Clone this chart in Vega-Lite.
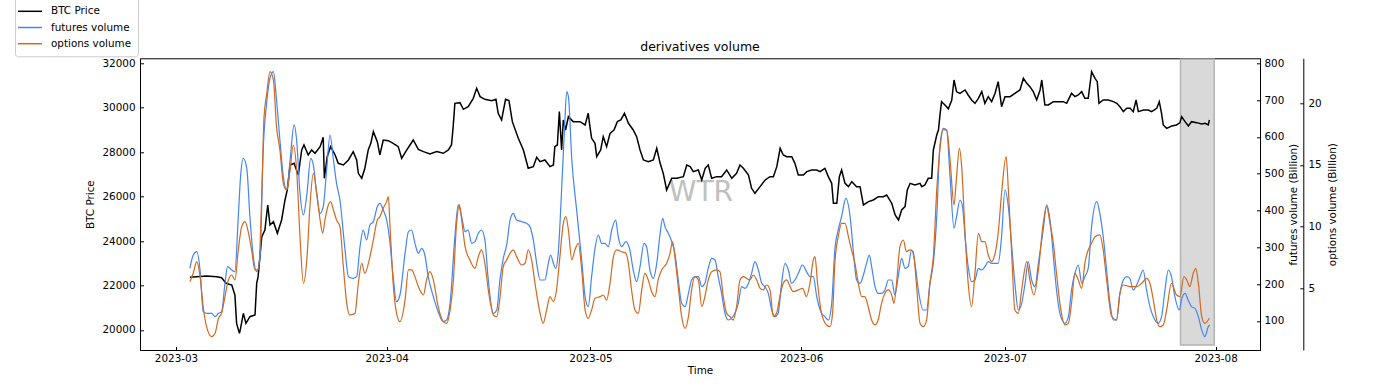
{
"$schema": "https://vega.github.io/schema/vega-lite/v6.json",
"width": 1120,
"height": 291.7,
"autosize": {"type": "none"},
"padding": {"left": 140, "top": 58.3, "right": 140, "bottom": 39},
"title": {"text": "derivatives volume", "anchor": "middle", "frame": "group"},
"config": {
 "font": "DejaVu Sans",
 "view": {"stroke": "#000000", "strokeWidth": 1},
 "axis": {"labelFontSize": 10.4, "titleFontSize": 10.4, "titleFontWeight": "normal", "labelColor": "#000000", "titleColor": "#000000", "domainColor": "#000000", "tickColor": "#000000", "tickSize": -3.5, "grid": false, "labelPadding": 8.5},
 "title": {"fontSize": 12.5, "fontWeight": "normal", "color": "#000000", "offset": -58}
},
"datasets": {
 "btc": [
{"t":"2023-03-03T01:00","v":22370},{"t":"2023-03-05T12:00","v":22430},{"t":"2023-03-07T00:00","v":22400},{"t":"2023-03-07T17:00","v":22355},{"t":"2023-03-08T09:00","v":22100},{"t":"2023-03-09T05:00","v":22025},{"t":"2023-03-09T16:00","v":21575},{"t":"2023-03-09T22:00","v":20300},{"t":"2023-03-10T08:00","v":19850},{"t":"2023-03-10T12:00","v":20075},{"t":"2023-03-10T22:00","v":20750},{"t":"2023-03-11T07:00","v":20300},{"t":"2023-03-11T21:00","v":20600},{"t":"2023-03-12T15:00","v":20675},{"t":"2023-03-12T21:00","v":22100},{"t":"2023-03-13T02:00","v":22400},{"t":"2023-03-13T15:00","v":24200},{"t":"2023-03-14T02:00","v":24500},{"t":"2023-03-14T12:00","v":25625},{"t":"2023-03-14T20:00","v":24725},{"t":"2023-03-15T08:00","v":24875},{"t":"2023-03-15T22:00","v":24350},{"t":"2023-03-16T13:00","v":24950},{"t":"2023-03-17T01:00","v":25850},{"t":"2023-03-17T09:00","v":26300},{"t":"2023-03-17T19:00","v":27425},{"t":"2023-03-18T09:00","v":27500},{"t":"2023-03-19T00:00","v":26975},{"t":"2023-03-19T12:00","v":28100},{"t":"2023-03-19T20:00","v":28325},{"t":"2023-03-20T11:00","v":27875},{"t":"2023-03-20T23:00","v":28100},{"t":"2023-03-21T11:00","v":27950},{"t":"2023-03-22T05:00","v":28250},{"t":"2023-03-22T16:00","v":28670},{"t":"2023-03-22T20:00","v":26825},{"t":"2023-03-23T06:00","v":27800},{"t":"2023-03-23T18:00","v":28250},{"t":"2023-03-24T10:00","v":27875},{"t":"2023-03-24T21:00","v":27500},{"t":"2023-03-25T15:00","v":27425},{"t":"2023-03-26T09:00","v":27650},{"t":"2023-03-27T02:00","v":28025},{"t":"2023-03-27T14:00","v":27650},{"t":"2023-03-27T20:00","v":27050},{"t":"2023-03-28T08:00","v":26825},{"t":"2023-03-28T19:00","v":27275},{"t":"2023-03-29T07:00","v":28100},{"t":"2023-03-29T16:00","v":28400},{"t":"2023-03-30T01:00","v":28925},{"t":"2023-03-30T15:00","v":28475},{"t":"2023-03-31T00:00","v":27875},{"t":"2023-03-31T12:00","v":28550},{"t":"2023-04-01T06:00","v":28520},{"t":"2023-04-01T23:00","v":28400},{"t":"2023-04-02T17:00","v":28250},{"t":"2023-04-03T05:00","v":27725},{"t":"2023-04-03T23:00","v":28100},{"t":"2023-04-04T22:00","v":28550},{"t":"2023-04-05T16:00","v":28130},{"t":"2023-04-06T10:00","v":28025},{"t":"2023-04-07T09:00","v":27920},{"t":"2023-04-08T09:00","v":28025},{"t":"2023-04-09T08:00","v":27950},{"t":"2023-04-10T02:00","v":28100},{"t":"2023-04-10T13:00","v":28325},{"t":"2023-04-10T19:00","v":29150},{"t":"2023-04-11T01:00","v":30200},{"t":"2023-04-11T19:00","v":30230},{"t":"2023-04-12T07:00","v":29930},{"t":"2023-04-13T00:00","v":30050},{"t":"2023-04-13T18:00","v":30425},{"t":"2023-04-14T06:00","v":30875},{"t":"2023-04-14T18:00","v":30500},{"t":"2023-04-15T11:00","v":30380},{"t":"2023-04-16T11:00","v":30320},{"t":"2023-04-17T02:00","v":30380},{"t":"2023-04-17T10:00","v":29750},{"t":"2023-04-17T22:00","v":29450},{"t":"2023-04-18T12:00","v":30380},{"t":"2023-04-19T00:00","v":30320},{"t":"2023-04-19T12:00","v":29375},{"t":"2023-04-20T09:00","v":28625},{"t":"2023-04-21T03:00","v":28100},{"t":"2023-04-21T20:00","v":27275},{"t":"2023-04-22T14:00","v":27350},{"t":"2023-04-23T02:00","v":27770},{"t":"2023-04-23T14:00","v":27575},
{"t":"2023-04-24T07:00","v":27650},{"t":"2023-04-25T01:00","v":27350},{"t":"2023-04-25T13:00","v":27425},{"t":"2023-04-25T18:00","v":28250},{"t":"2023-04-26T03:00","v":28325},{"t":"2023-04-26T10:00","v":29825},{"t":"2023-04-26T18:00","v":28100},{"t":"2023-04-27T00:00","v":29450},{"t":"2023-04-27T08:00","v":29000},{"t":"2023-04-27T18:00","v":29600},{"t":"2023-04-28T11:00","v":29375},{"t":"2023-04-29T11:00","v":29375},{"t":"2023-04-30T05:00","v":29225},{"t":"2023-04-30T16:00","v":29750},{"t":"2023-04-30T22:00","v":29150},{"t":"2023-05-01T04:00","v":28625},{"t":"2023-05-01T16:00","v":28400},{"t":"2023-05-01T22:00","v":27800},{"t":"2023-05-02T12:00","v":28100},{"t":"2023-05-02T21:00","v":28700},{"t":"2023-05-03T09:00","v":28250},{"t":"2023-05-03T21:00","v":28850},{"t":"2023-05-04T11:00","v":29000},{"t":"2023-05-04T23:00","v":29375},{"t":"2023-05-05T11:00","v":29450},{"t":"2023-05-06T00:00","v":29750},{"t":"2023-05-06T14:00","v":29300},{"t":"2023-05-07T07:00","v":29000},{"t":"2023-05-07T19:00","v":28700},{"t":"2023-05-08T07:00","v":28100},{"t":"2023-05-08T19:00","v":27650},{"t":"2023-05-09T12:00","v":27575},{"t":"2023-05-10T06:00","v":27650},{"t":"2023-05-10T18:00","v":28175},{"t":"2023-05-11T06:00","v":27500},{"t":"2023-05-11T17:00","v":27050},{"t":"2023-05-12T05:00","v":26300},{"t":"2023-05-12T23:00","v":26825},{"t":"2023-05-13T17:00","v":26825},{"t":"2023-05-14T16:00","v":26900},{"t":"2023-05-15T04:00","v":27425},{"t":"2023-05-15T16:00","v":27350},{"t":"2023-05-16T03:00","v":27125},{"t":"2023-05-16T21:00","v":27200},{"t":"2023-05-17T09:00","v":26750},{"t":"2023-05-17T21:00","v":27275},{"t":"2023-05-18T08:00","v":27425},{"t":"2023-05-18T20:00","v":26825},{"t":"2023-05-19T14:00","v":26900},{"t":"2023-05-20T07:00","v":26900},{"t":"2023-05-21T01:00","v":27200},{"t":"2023-05-21T19:00","v":26825},{"t":"2023-05-22T12:00","v":27050},{"t":"2023-05-23T00:00","v":27425},{"t":"2023-05-23T12:00","v":27275},{"t":"2023-05-24T06:00","v":26975},{"t":"2023-05-24T17:00","v":26375},{"t":"2023-05-25T05:00","v":26150},{"t":"2023-05-25T23:00","v":26450},{"t":"2023-05-26T17:00","v":26750},{"t":"2023-05-27T10:00","v":26900},{"t":"2023-05-27T22:00","v":26900},{"t":"2023-05-28T10:00","v":27350},{"t":"2023-05-28T22:00","v":28175},{"t":"2023-05-29T09:00","v":27875},{"t":"2023-05-29T21:00","v":27800},{"t":"2023-05-30T15:00","v":27800},{"t":"2023-05-31T02:00","v":27500},{"t":"2023-05-31T14:00","v":26975},{"t":"2023-06-01T08:00","v":26975},{"t":"2023-06-01T20:00","v":27125},{"t":"2023-06-02T13:00","v":27200},{"t":"2023-06-03T07:00","v":27200},{"t":"2023-06-03T19:00","v":27125},{"t":"2023-06-04T12:00","v":27275},{"t":"2023-06-05T00:00","v":26900},{"t":"2023-06-05T12:00","v":26600},{"t":"2023-06-05T18:00","v":25700},{"t":"2023-06-06T06:00","v":25700},{"t":"2023-06-06T15:00","v":26900},{"t":"2023-06-06T23:00","v":27200},{"t":"2023-06-07T11:00","v":26600},{"t":"2023-06-07T23:00","v":26450},{"t":"2023-06-08T11:00","v":26675},{"t":"2023-06-09T04:00","v":26450},{"t":"2023-06-09T16:00","v":26450},{"t":"2023-06-10T04:00","v":25625},{"t":"2023-06-10T22:00","v":25775},{"t":"2023-06-11T15:00","v":25850},{"t":"2023-06-12T09:00","v":26000},{"t":"2023-06-13T03:00","v":26000},{"t":"2023-06-13T14:00","v":26075},{"t":"2023-06-14T08:00","v":25700},{"t":"2023-06-14T20:00","v":25175},{"t":"2023-06-15T08:00","v":24950},{"t":"2023-06-15T19:00","v":25400},{"t":"2023-06-16T07:00","v":25550},{"t":"2023-06-16T15:00","v":26300},{"t":"2023-06-17T01:00","v":26600},{"t":"2023-06-17T18:00","v":26525},{"t":"2023-06-18T12:00","v":26600},
{"t":"2023-06-18T18:00","v":26450},{"t":"2023-06-19T05:00","v":26525},{"t":"2023-06-19T17:00","v":26825},{"t":"2023-06-20T05:00","v":26825},{"t":"2023-06-20T11:00","v":28100},{"t":"2023-06-20T23:00","v":28775},{"t":"2023-06-21T05:00","v":29000},{"t":"2023-06-21T11:00","v":29750},{"t":"2023-06-21T16:00","v":30275},{"t":"2023-06-22T04:00","v":30125},{"t":"2023-06-22T16:00","v":29950},{"t":"2023-06-23T04:00","v":30350},{"t":"2023-06-23T12:00","v":31250},{"t":"2023-06-23T21:00","v":30725},{"t":"2023-06-24T09:00","v":30650},{"t":"2023-06-25T03:00","v":30800},{"t":"2023-06-25T14:00","v":30575},{"t":"2023-06-26T02:00","v":30350},{"t":"2023-06-26T14:00","v":30200},{"t":"2023-06-27T02:00","v":30425},{"t":"2023-06-27T14:00","v":30725},{"t":"2023-06-28T01:00","v":30200},{"t":"2023-06-28T13:00","v":30500},{"t":"2023-06-29T01:00","v":30275},{"t":"2023-06-29T13:00","v":30650},{"t":"2023-06-30T00:00","v":31175},{"t":"2023-06-30T12:00","v":30050},{"t":"2023-07-01T00:00","v":30500},{"t":"2023-07-01T18:00","v":30500},{"t":"2023-07-02T11:00","v":30650},{"t":"2023-07-03T05:00","v":30800},{"t":"2023-07-03T17:00","v":31325},{"t":"2023-07-04T05:00","v":31100},{"t":"2023-07-04T16:00","v":30950},{"t":"2023-07-05T04:00","v":30725},{"t":"2023-07-05T16:00","v":30350},{"t":"2023-07-06T04:00","v":30800},{"t":"2023-07-06T10:00","v":31250},{"t":"2023-07-06T21:00","v":30125},{"t":"2023-07-07T09:00","v":30125},{"t":"2023-07-08T03:00","v":30275},{"t":"2023-07-08T20:00","v":30275},{"t":"2023-07-09T14:00","v":30275},{"t":"2023-07-10T02:00","v":30200},{"t":"2023-07-10T19:00","v":30650},{"t":"2023-07-11T07:00","v":30500},{"t":"2023-07-11T19:00","v":30575},{"t":"2023-07-12T07:00","v":30725},{"t":"2023-07-12T18:00","v":30425},{"t":"2023-07-13T06:00","v":30425},{"t":"2023-07-13T18:00","v":31625},{"t":"2023-07-14T06:00","v":31325},{"t":"2023-07-14T14:00","v":31175},{"t":"2023-07-14T20:00","v":30200},{"t":"2023-07-15T11:00","v":30350},{"t":"2023-07-16T05:00","v":30350},{"t":"2023-07-16T23:00","v":30275},{"t":"2023-07-17T11:00","v":30200},{"t":"2023-07-17T22:00","v":30050},{"t":"2023-07-18T10:00","v":29825},{"t":"2023-07-18T22:00","v":29975},{"t":"2023-07-19T10:00","v":29975},{"t":"2023-07-19T21:00","v":29825},{"t":"2023-07-20T07:00","v":30350},{"t":"2023-07-20T15:00","v":29825},{"t":"2023-07-21T09:00","v":29900},{"t":"2023-07-22T02:00","v":29900},{"t":"2023-07-22T14:00","v":29825},{"t":"2023-07-23T08:00","v":29975},{"t":"2023-07-23T17:00","v":30275},{"t":"2023-07-24T01:00","v":29750},{"t":"2023-07-24T07:00","v":29225},{"t":"2023-07-24T19:00","v":29075},{"t":"2023-07-25T13:00","v":29180},{"t":"2023-07-26T06:00","v":29225},{"t":"2023-07-26T18:00","v":29330},{"t":"2023-07-27T00:00","v":29600},{"t":"2023-07-27T12:00","v":29375},{"t":"2023-07-28T00:00","v":29180},{"t":"2023-07-28T11:00","v":29375},{"t":"2023-07-29T05:00","v":29330},{"t":"2023-07-29T23:00","v":29270},{"t":"2023-07-30T11:00","v":29300},{"t":"2023-07-30T22:00","v":29225},{"t":"2023-07-31T02:00","v":29450}
 ],
 "fut": [
{"t":"2023-03-03T01:00","v":243.1},{"t":"2023-03-03T13:00","v":279.3},{"t":"2023-03-04T01:00","v":288.4},{"t":"2023-03-04T13:00","v":238.5},{"t":"2023-03-05T00:00","v":125.3},{"t":"2023-03-05T12:00","v":120.8},{"t":"2023-03-06T06:00","v":120.8},{"t":"2023-03-06T18:00","v":111.7},{"t":"2023-03-07T06:00","v":120.8},{"t":"2023-03-07T17:00","v":125.3},{"t":"2023-03-08T05:00","v":202.3},{"t":"2023-03-08T14:00","v":247.6},{"t":"2023-03-09T05:00","v":238.5},{"t":"2023-03-09T16:00","v":234.0},{"t":"2023-03-10T04:00","v":383.5},{"t":"2023-03-10T12:00","v":492.1},{"t":"2023-03-10T22:00","v":542.0},{"t":"2023-03-11T10:00","v":514.8},{"t":"2023-03-11T21:00","v":383.5},{"t":"2023-03-12T09:00","v":274.8},{"t":"2023-03-12T21:00","v":234.0},{"t":"2023-03-13T09:00","v":274.8},{"t":"2023-03-13T20:00","v":564.6},{"t":"2023-03-14T08:00","v":691.4},{"t":"2023-03-14T20:00","v":759.3},{"t":"2023-03-15T08:00","v":777.4},{"t":"2023-03-15T19:00","v":700.4},{"t":"2023-03-16T07:00","v":591.8},{"t":"2023-03-16T19:00","v":492.1},{"t":"2023-03-17T07:00","v":455.9},{"t":"2023-03-17T19:00","v":537.4},{"t":"2023-03-18T09:00","v":632.5},{"t":"2023-03-18T18:00","v":591.8},{"t":"2023-03-19T06:00","v":446.9},{"t":"2023-03-19T18:00","v":388.0},{"t":"2023-03-20T06:00","v":442.3},{"t":"2023-03-20T20:00","v":542.0},{"t":"2023-03-21T05:00","v":523.8},{"t":"2023-03-21T17:00","v":446.9},{"t":"2023-03-22T05:00","v":392.5},{"t":"2023-03-22T16:00","v":410.6},{"t":"2023-03-23T04:00","v":510.3},{"t":"2023-03-23T16:00","v":605.3},{"t":"2023-03-24T04:00","v":537.4},{"t":"2023-03-24T15:00","v":474.0},{"t":"2023-03-25T03:00","v":428.7},{"t":"2023-03-25T21:00","v":292.9},{"t":"2023-03-26T09:00","v":220.4},{"t":"2023-03-27T02:00","v":215.9},{"t":"2023-03-27T14:00","v":220.4},{"t":"2023-03-28T02:00","v":301.9},{"t":"2023-03-28T13:00","v":347.2},{"t":"2023-03-29T01:00","v":320.1},{"t":"2023-03-29T13:00","v":360.8},{"t":"2023-03-30T01:00","v":369.9},{"t":"2023-03-30T15:00","v":410.6},{"t":"2023-03-31T00:00","v":419.7},{"t":"2023-03-31T12:00","v":401.6},{"t":"2023-04-01T00:00","v":374.4},{"t":"2023-04-01T12:00","v":311.0},{"t":"2023-04-01T23:00","v":220.4},{"t":"2023-04-02T11:00","v":152.5},{"t":"2023-04-02T23:00","v":170.6},{"t":"2023-04-03T17:00","v":283.8},{"t":"2023-04-04T05:00","v":342.7},{"t":"2023-04-04T16:00","v":347.2},{"t":"2023-04-05T04:00","v":311.0},{"t":"2023-04-05T16:00","v":283.8},{"t":"2023-04-06T04:00","v":297.4},{"t":"2023-04-06T15:00","v":279.3},{"t":"2023-04-07T03:00","v":220.4},{"t":"2023-04-07T21:00","v":166.1},{"t":"2023-04-08T14:00","v":125.3},{"t":"2023-04-09T08:00","v":98.2},{"t":"2023-04-09T20:00","v":102.7},{"t":"2023-04-10T08:00","v":148.0},{"t":"2023-04-11T01:00","v":329.1},{"t":"2023-04-11T13:00","v":415.2},{"t":"2023-04-12T01:00","v":383.5},{"t":"2023-04-12T13:00","v":342.7},{"t":"2023-04-13T00:00","v":347.2},{"t":"2023-04-13T12:00","v":311.0},{"t":"2023-04-14T00:00","v":315.5},{"t":"2023-04-14T12:00","v":338.2},{"t":"2023-04-14T23:00","v":347.2},{"t":"2023-04-15T11:00","v":320.1},{"t":"2023-04-15T23:00","v":211.4},{"t":"2023-04-16T17:00","v":120.8},{"t":"2023-04-17T05:00","v":129.9},{"t":"2023-04-17T16:00","v":211.4},{"t":"2023-04-18T04:00","v":270.2},{"t":"2023-04-18T16:00","v":306.5},{"t":"2023-04-19T04:00","v":374.4},{"t":"2023-04-19T15:00","v":392.5},{"t":"2023-04-20T03:00","v":374.4},{"t":"2023-04-20T21:00","v":369.9},{"t":"2023-04-21T14:00","v":365.3},{"t":"2023-04-22T02:00","v":356.3},{"t":"2023-04-22T14:00","v":320.1},{"t":"2023-04-23T02:00","v":256.7},{"t":"2023-04-23T14:00","v":211.4},
{"t":"2023-04-24T07:00","v":211.4},{"t":"2023-04-24T19:00","v":256.7},{"t":"2023-04-25T03:00","v":279.3},{"t":"2023-04-25T13:00","v":256.7},{"t":"2023-04-25T21:00","v":243.1},{"t":"2023-04-26T06:00","v":283.8},{"t":"2023-04-26T18:00","v":455.9},{"t":"2023-04-27T04:00","v":618.9},{"t":"2023-04-27T12:00","v":723.1},{"t":"2023-04-27T18:00","v":709.5},{"t":"2023-04-28T06:00","v":537.4},{"t":"2023-04-28T23:00","v":401.6},{"t":"2023-04-29T17:00","v":265.7},{"t":"2023-04-30T05:00","v":166.1},{"t":"2023-04-30T16:00","v":138.9},{"t":"2023-05-01T04:00","v":220.4},{"t":"2023-05-01T16:00","v":297.4},{"t":"2023-05-02T04:00","v":333.6},{"t":"2023-05-02T15:00","v":311.0},{"t":"2023-05-03T03:00","v":311.0},{"t":"2023-05-03T15:00","v":301.9},{"t":"2023-05-04T03:00","v":347.2},{"t":"2023-05-04T17:00","v":374.4},{"t":"2023-05-05T02:00","v":329.1},{"t":"2023-05-05T14:00","v":301.9},{"t":"2023-05-06T05:00","v":315.5},{"t":"2023-05-06T19:00","v":292.9},{"t":"2023-05-07T07:00","v":238.5},{"t":"2023-05-07T19:00","v":206.8},{"t":"2023-05-08T07:00","v":247.6},{"t":"2023-05-08T21:00","v":311.0},{"t":"2023-05-09T06:00","v":301.9},{"t":"2023-05-09T18:00","v":238.5},{"t":"2023-05-10T06:00","v":215.9},{"t":"2023-05-10T18:00","v":256.7},{"t":"2023-05-11T06:00","v":338.2},{"t":"2023-05-11T15:00","v":378.9},{"t":"2023-05-11T23:00","v":356.3},{"t":"2023-05-12T11:00","v":338.2},{"t":"2023-05-12T23:00","v":315.5},{"t":"2023-05-13T10:00","v":283.8},{"t":"2023-05-13T22:00","v":211.4},{"t":"2023-05-14T10:00","v":148.0},{"t":"2023-05-14T22:00","v":138.9},{"t":"2023-05-15T10:00","v":175.1},{"t":"2023-05-15T21:00","v":211.4},{"t":"2023-05-16T09:00","v":220.4},{"t":"2023-05-16T21:00","v":220.4},{"t":"2023-05-17T09:00","v":193.3},{"t":"2023-05-17T20:00","v":202.3},{"t":"2023-05-18T08:00","v":243.1},{"t":"2023-05-18T20:00","v":270.2},{"t":"2023-05-19T08:00","v":265.7},{"t":"2023-05-19T19:00","v":220.4},{"t":"2023-05-20T07:00","v":175.1},{"t":"2023-05-20T19:00","v":120.8},{"t":"2023-05-21T07:00","v":102.7},{"t":"2023-05-21T18:00","v":107.2},{"t":"2023-05-22T06:00","v":120.8},{"t":"2023-05-22T18:00","v":148.0},{"t":"2023-05-23T06:00","v":193.3},{"t":"2023-05-23T18:00","v":188.7},{"t":"2023-05-24T06:00","v":202.3},{"t":"2023-05-24T17:00","v":229.5},{"t":"2023-05-25T05:00","v":261.2},{"t":"2023-05-25T17:00","v":238.5},{"t":"2023-05-26T05:00","v":202.3},{"t":"2023-05-26T16:00","v":193.3},{"t":"2023-05-27T04:00","v":175.1},{"t":"2023-05-27T16:00","v":129.9},{"t":"2023-05-28T04:00","v":111.7},{"t":"2023-05-28T15:00","v":120.8},{"t":"2023-05-29T03:00","v":202.3},{"t":"2023-05-29T15:00","v":256.7},{"t":"2023-05-30T03:00","v":238.5},{"t":"2023-05-30T14:00","v":202.3},{"t":"2023-05-31T02:00","v":211.4},{"t":"2023-05-31T14:00","v":229.5},{"t":"2023-06-01T05:00","v":252.1},{"t":"2023-06-01T19:00","v":234.0},{"t":"2023-06-02T07:00","v":220.4},{"t":"2023-06-02T19:00","v":220.4},{"t":"2023-06-03T07:00","v":166.1},{"t":"2023-06-04T00:00","v":120.8},{"t":"2023-06-04T12:00","v":111.7},{"t":"2023-06-05T00:00","v":102.7},{"t":"2023-06-05T12:00","v":148.0},{"t":"2023-06-05T23:00","v":292.9},{"t":"2023-06-06T11:00","v":347.2},{"t":"2023-06-06T23:00","v":383.5},{"t":"2023-06-07T14:00","v":433.2},{"t":"2023-06-08T05:00","v":383.5},{"t":"2023-06-08T16:00","v":292.9},{"t":"2023-06-09T04:00","v":211.4},{"t":"2023-06-09T16:00","v":202.3},{"t":"2023-06-10T04:00","v":224.9},{"t":"2023-06-10T15:00","v":256.7},{"t":"2023-06-11T01:00","v":279.3},{"t":"2023-06-11T09:00","v":247.6},{"t":"2023-06-11T21:00","v":193.3},{"t":"2023-06-12T08:00","v":175.1},{"t":"2023-06-12T20:00","v":175.1},{"t":"2023-06-13T08:00","v":184.2},{"t":"2023-06-13T20:00","v":211.4},{"t":"2023-06-14T08:00","v":211.4},{"t":"2023-06-14T19:00","v":170.6},{"t":"2023-06-15T07:00","v":220.4},{"t":"2023-06-15T19:00","v":270.2},{"t":"2023-06-16T07:00","v":243.1},{"t":"2023-06-16T18:00","v":247.6},{"t":"2023-06-17T06:00","v":292.9},{"t":"2023-06-17T18:00","v":256.7},{"t":"2023-06-18T06:00","v":184.2},
{"t":"2023-06-18T23:00","v":129.9},{"t":"2023-06-19T11:00","v":129.9},{"t":"2023-06-19T23:00","v":202.3},{"t":"2023-06-20T11:00","v":256.7},{"t":"2023-06-20T23:00","v":383.5},{"t":"2023-06-21T10:00","v":573.7},{"t":"2023-06-21T22:00","v":623.5},{"t":"2023-06-22T10:00","v":618.9},{"t":"2023-06-22T22:00","v":492.1},{"t":"2023-06-23T12:00","v":351.8},{"t":"2023-06-23T21:00","v":383.5},{"t":"2023-06-24T09:00","v":428.7},{"t":"2023-06-24T18:00","v":410.6},{"t":"2023-06-25T03:00","v":329.1},{"t":"2023-06-25T14:00","v":247.6},{"t":"2023-06-26T02:00","v":206.8},{"t":"2023-06-26T14:00","v":211.4},{"t":"2023-06-27T02:00","v":243.1},{"t":"2023-06-27T14:00","v":238.5},{"t":"2023-06-28T01:00","v":247.6},{"t":"2023-06-28T13:00","v":261.2},{"t":"2023-06-29T01:00","v":256.7},{"t":"2023-06-29T13:00","v":256.7},{"t":"2023-06-30T00:00","v":256.7},{"t":"2023-06-30T12:00","v":329.1},{"t":"2023-07-01T00:00","v":455.9},{"t":"2023-07-01T12:00","v":410.6},{"t":"2023-07-01T23:00","v":311.0},{"t":"2023-07-02T11:00","v":202.3},{"t":"2023-07-02T23:00","v":129.9},{"t":"2023-07-03T11:00","v":148.0},{"t":"2023-07-03T23:00","v":202.3},{"t":"2023-07-04T10:00","v":261.2},{"t":"2023-07-04T22:00","v":211.4},{"t":"2023-07-05T10:00","v":193.3},{"t":"2023-07-05T22:00","v":256.7},{"t":"2023-07-06T15:00","v":347.2},{"t":"2023-07-07T03:00","v":415.2},{"t":"2023-07-07T15:00","v":374.4},{"t":"2023-07-08T03:00","v":274.8},{"t":"2023-07-08T14:00","v":184.2},{"t":"2023-07-09T02:00","v":120.8},{"t":"2023-07-09T20:00","v":93.6},{"t":"2023-07-10T08:00","v":111.7},{"t":"2023-07-10T19:00","v":184.2},{"t":"2023-07-11T07:00","v":229.5},{"t":"2023-07-11T19:00","v":252.1},{"t":"2023-07-12T07:00","v":202.3},{"t":"2023-07-12T18:00","v":220.4},{"t":"2023-07-13T06:00","v":243.1},{"t":"2023-07-13T18:00","v":356.3},{"t":"2023-07-14T12:00","v":424.2},{"t":"2023-07-14T23:00","v":392.5},{"t":"2023-07-15T11:00","v":329.1},{"t":"2023-07-15T23:00","v":238.5},{"t":"2023-07-16T11:00","v":148.0},{"t":"2023-07-16T23:00","v":102.7},{"t":"2023-07-17T10:00","v":102.7},{"t":"2023-07-17T22:00","v":175.1},{"t":"2023-07-18T10:00","v":211.4},{"t":"2023-07-18T22:00","v":220.4},{"t":"2023-07-19T09:00","v":215.9},{"t":"2023-07-19T21:00","v":184.2},{"t":"2023-07-20T09:00","v":197.8},{"t":"2023-07-20T21:00","v":220.4},{"t":"2023-07-21T08:00","v":238.5},{"t":"2023-07-21T20:00","v":184.2},{"t":"2023-07-22T08:00","v":138.9},{"t":"2023-07-22T20:00","v":111.7},{"t":"2023-07-23T13:00","v":93.6},{"t":"2023-07-24T01:00","v":111.7},{"t":"2023-07-24T13:00","v":184.2},{"t":"2023-07-25T01:00","v":238.5},{"t":"2023-07-25T12:00","v":220.4},{"t":"2023-07-26T00:00","v":166.1},{"t":"2023-07-26T16:00","v":129.9},{"t":"2023-07-26T23:00","v":157.0},{"t":"2023-07-27T12:00","v":175.1},{"t":"2023-07-27T23:00","v":157.0},{"t":"2023-07-28T11:00","v":138.9},{"t":"2023-07-28T23:00","v":134.4},{"t":"2023-07-29T11:00","v":111.7},{"t":"2023-07-29T23:00","v":75.5},{"t":"2023-07-30T10:00","v":57.4},{"t":"2023-07-30T22:00","v":84.6},{"t":"2023-07-31T04:00","v":89.1}
 ],
 "opt": [
{"t":"2023-03-03T01:00","v":5.54},{"t":"2023-03-03T13:00","v":6.22},{"t":"2023-03-04T01:00","v":7.16},{"t":"2023-03-04T13:00","v":5.95},{"t":"2023-03-05T00:00","v":3.51},{"t":"2023-03-05T12:00","v":1.89},{"t":"2023-03-06T06:00","v":1.08},{"t":"2023-03-06T18:00","v":1.35},{"t":"2023-03-07T06:00","v":2.57},{"t":"2023-03-07T17:00","v":2.97},{"t":"2023-03-08T05:00","v":4.33},{"t":"2023-03-08T17:00","v":5.68},{"t":"2023-03-09T05:00","v":6.08},{"t":"2023-03-09T16:00","v":5.68},{"t":"2023-03-10T04:00","v":8.11},{"t":"2023-03-10T16:00","v":10.0},{"t":"2023-03-11T04:00","v":10.41},{"t":"2023-03-11T15:00","v":9.6},{"t":"2023-03-12T03:00","v":8.11},{"t":"2023-03-12T15:00","v":6.49},{"t":"2023-03-13T03:00","v":6.49},{"t":"2023-03-13T15:00","v":12.7},{"t":"2023-03-13T23:00","v":18.92},{"t":"2023-03-14T08:00","v":20.68},{"t":"2023-03-14T20:00","v":22.57},{"t":"2023-03-15T08:00","v":21.89},{"t":"2023-03-15T19:00","v":18.11},{"t":"2023-03-16T07:00","v":16.22},{"t":"2023-03-16T19:00","v":13.52},{"t":"2023-03-17T07:00","v":12.98},{"t":"2023-03-17T19:00","v":14.6},{"t":"2023-03-18T06:00","v":16.62},{"t":"2023-03-18T18:00","v":14.6},{"t":"2023-03-19T06:00","v":9.19},{"t":"2023-03-19T18:00","v":5.41},{"t":"2023-03-20T06:00","v":7.3},{"t":"2023-03-20T17:00","v":11.62},{"t":"2023-03-21T05:00","v":14.33},{"t":"2023-03-21T17:00","v":12.7},{"t":"2023-03-22T05:00","v":10.54},{"t":"2023-03-22T14:00","v":9.46},{"t":"2023-03-22T22:00","v":10.54},{"t":"2023-03-23T10:00","v":11.76},{"t":"2023-03-23T18:00","v":12.03},{"t":"2023-03-24T04:00","v":11.35},{"t":"2023-03-24T15:00","v":10.54},{"t":"2023-03-25T03:00","v":10.0},{"t":"2023-03-25T15:00","v":6.76},{"t":"2023-03-26T03:00","v":3.78},{"t":"2023-03-26T14:00","v":2.84},{"t":"2023-03-27T08:00","v":2.97},{"t":"2023-03-27T20:00","v":5.41},{"t":"2023-03-28T08:00","v":7.03},{"t":"2023-03-28T19:00","v":6.22},{"t":"2023-03-29T13:00","v":7.57},{"t":"2023-03-30T01:00","v":8.92},{"t":"2023-03-30T15:00","v":10.54},{"t":"2023-03-31T00:00","v":10.81},{"t":"2023-03-31T12:00","v":11.49},{"t":"2023-04-01T00:00","v":12.03},{"t":"2023-04-01T06:00","v":12.43},{"t":"2023-04-01T12:00","v":10.0},{"t":"2023-04-01T23:00","v":5.41},{"t":"2023-04-02T11:00","v":2.97},{"t":"2023-04-02T23:00","v":2.3},{"t":"2023-04-03T17:00","v":4.05},{"t":"2023-04-04T05:00","v":6.49},{"t":"2023-04-04T16:00","v":6.49},{"t":"2023-04-05T04:00","v":5.95},{"t":"2023-04-05T16:00","v":5.14},{"t":"2023-04-06T10:00","v":4.46},{"t":"2023-04-06T21:00","v":5.68},{"t":"2023-04-07T09:00","v":6.35},{"t":"2023-04-07T21:00","v":5.68},{"t":"2023-04-08T14:00","v":3.51},{"t":"2023-04-09T08:00","v":2.3},{"t":"2023-04-09T20:00","v":2.16},{"t":"2023-04-10T08:00","v":3.24},{"t":"2023-04-10T19:00","v":5.41},{"t":"2023-04-11T07:00","v":10.27},{"t":"2023-04-11T17:00","v":11.76},{"t":"2023-04-12T01:00","v":10.54},{"t":"2023-04-12T13:00","v":8.38},{"t":"2023-04-13T06:00","v":7.3},{"t":"2023-04-14T00:00","v":6.62},{"t":"2023-04-14T12:00","v":7.57},{"t":"2023-04-14T23:00","v":8.11},{"t":"2023-04-15T11:00","v":7.03},{"t":"2023-04-15T23:00","v":4.87},{"t":"2023-04-16T17:00","v":2.84},{"t":"2023-04-17T05:00","v":2.7},{"t":"2023-04-17T16:00","v":4.19},{"t":"2023-04-18T04:00","v":6.76},{"t":"2023-04-18T16:00","v":7.3},{"t":"2023-04-19T04:00","v":7.84},{"t":"2023-04-19T15:00","v":8.11},{"t":"2023-04-20T03:00","v":7.57},{"t":"2023-04-20T21:00","v":6.89},{"t":"2023-04-21T09:00","v":7.03},{"t":"2023-04-21T20:00","v":8.11},{"t":"2023-04-22T08:00","v":7.3},{"t":"2023-04-22T20:00","v":5.41},{"t":"2023-04-23T14:00","v":2.97},
{"t":"2023-04-24T01:00","v":2.16},{"t":"2023-04-24T13:00","v":3.24},{"t":"2023-04-25T01:00","v":4.33},{"t":"2023-04-25T13:00","v":3.92},{"t":"2023-04-26T00:00","v":4.87},{"t":"2023-04-26T12:00","v":7.57},{"t":"2023-04-27T00:00","v":10.27},{"t":"2023-04-27T09:00","v":10.81},{"t":"2023-04-27T18:00","v":9.73},{"t":"2023-04-28T06:00","v":7.3},{"t":"2023-04-28T17:00","v":8.11},{"t":"2023-04-29T05:00","v":8.65},{"t":"2023-04-29T17:00","v":6.49},{"t":"2023-04-30T05:00","v":3.24},{"t":"2023-04-30T16:00","v":2.57},{"t":"2023-05-01T04:00","v":3.24},{"t":"2023-05-01T16:00","v":4.19},{"t":"2023-05-02T10:00","v":4.33},{"t":"2023-05-02T21:00","v":4.46},{"t":"2023-05-03T09:00","v":4.05},{"t":"2023-05-03T21:00","v":5.41},{"t":"2023-05-04T09:00","v":7.57},{"t":"2023-05-04T20:00","v":8.11},{"t":"2023-05-05T14:00","v":7.97},{"t":"2023-05-06T05:00","v":7.84},{"t":"2023-05-06T14:00","v":7.03},{"t":"2023-05-07T01:00","v":4.87},{"t":"2023-05-07T13:00","v":3.24},{"t":"2023-05-08T01:00","v":2.97},{"t":"2023-05-08T13:00","v":4.87},{"t":"2023-05-09T00:00","v":6.22},{"t":"2023-05-09T12:00","v":5.68},{"t":"2023-05-10T00:00","v":4.73},{"t":"2023-05-10T12:00","v":4.33},{"t":"2023-05-10T23:00","v":5.68},{"t":"2023-05-11T11:00","v":6.49},{"t":"2023-05-12T05:00","v":7.03},{"t":"2023-05-12T17:00","v":7.84},{"t":"2023-05-13T02:00","v":8.79},{"t":"2023-05-13T10:00","v":7.57},{"t":"2023-05-13T22:00","v":5.14},{"t":"2023-05-14T10:00","v":2.7},{"t":"2023-05-14T22:00","v":1.76},{"t":"2023-05-15T10:00","v":2.7},{"t":"2023-05-15T21:00","v":4.87},{"t":"2023-05-16T09:00","v":5.95},{"t":"2023-05-16T21:00","v":5.68},{"t":"2023-05-17T09:00","v":3.51},{"t":"2023-05-17T20:00","v":4.33},{"t":"2023-05-18T08:00","v":5.68},{"t":"2023-05-18T20:00","v":6.35},{"t":"2023-05-19T14:00","v":6.49},{"t":"2023-05-20T01:00","v":6.35},{"t":"2023-05-20T13:00","v":4.33},{"t":"2023-05-21T01:00","v":2.97},{"t":"2023-05-21T13:00","v":2.7},{"t":"2023-05-22T00:00","v":2.43},{"t":"2023-05-22T12:00","v":3.51},{"t":"2023-05-23T00:00","v":5.68},{"t":"2023-05-23T12:00","v":5.95},{"t":"2023-05-23T23:00","v":5.81},{"t":"2023-05-24T11:00","v":5.68},{"t":"2023-05-24T23:00","v":6.08},{"t":"2023-05-25T11:00","v":5.68},{"t":"2023-05-25T23:00","v":5.0},{"t":"2023-05-26T10:00","v":4.87},{"t":"2023-05-26T22:00","v":5.27},{"t":"2023-05-27T10:00","v":4.87},{"t":"2023-05-27T22:00","v":2.7},{"t":"2023-05-28T09:00","v":2.97},{"t":"2023-05-28T21:00","v":4.33},{"t":"2023-05-29T09:00","v":5.41},{"t":"2023-05-29T21:00","v":5.68},{"t":"2023-05-30T09:00","v":5.14},{"t":"2023-05-30T20:00","v":4.73},{"t":"2023-05-31T14:00","v":4.87},{"t":"2023-06-01T05:00","v":5.0},{"t":"2023-06-01T19:00","v":4.33},{"t":"2023-06-02T07:00","v":5.41},{"t":"2023-06-02T19:00","v":7.3},{"t":"2023-06-03T01:00","v":7.57},{"t":"2023-06-03T10:00","v":5.41},{"t":"2023-06-04T00:00","v":2.97},{"t":"2023-06-04T18:00","v":2.03},{"t":"2023-06-05T06:00","v":1.89},{"t":"2023-06-05T15:00","v":2.97},{"t":"2023-06-05T23:00","v":7.03},{"t":"2023-06-06T11:00","v":9.19},{"t":"2023-06-06T23:00","v":10.27},{"t":"2023-06-07T11:00","v":10.27},{"t":"2023-06-07T23:00","v":9.19},{"t":"2023-06-08T10:00","v":8.11},{"t":"2023-06-08T22:00","v":7.03},{"t":"2023-06-09T10:00","v":5.41},{"t":"2023-06-09T22:00","v":4.33},{"t":"2023-06-10T09:00","v":4.33},{"t":"2023-06-10T21:00","v":3.51},{"t":"2023-06-11T09:00","v":2.43},{"t":"2023-06-11T21:00","v":2.03},{"t":"2023-06-12T08:00","v":2.43},{"t":"2023-06-12T20:00","v":3.78},{"t":"2023-06-13T08:00","v":4.6},{"t":"2023-06-13T20:00","v":4.87},{"t":"2023-06-14T08:00","v":4.46},{"t":"2023-06-14T16:00","v":3.78},{"t":"2023-06-15T01:00","v":5.41},{"t":"2023-06-15T13:00","v":8.38},{"t":"2023-06-16T01:00","v":8.92},{"t":"2023-06-16T12:00","v":7.97},{"t":"2023-06-17T00:00","v":8.11},{"t":"2023-06-17T12:00","v":7.97},{"t":"2023-06-17T23:00","v":5.41},
{"t":"2023-06-18T12:00","v":2.16},{"t":"2023-06-18T23:00","v":1.89},{"t":"2023-06-19T11:00","v":2.43},{"t":"2023-06-19T23:00","v":5.41},{"t":"2023-06-20T11:00","v":7.57},{"t":"2023-06-20T23:00","v":12.98},{"t":"2023-06-21T10:00","v":16.22},{"t":"2023-06-21T22:00","v":17.84},{"t":"2023-06-22T10:00","v":17.84},{"t":"2023-06-22T22:00","v":15.41},{"t":"2023-06-23T12:00","v":11.76},{"t":"2023-06-23T21:00","v":14.06},{"t":"2023-06-24T07:00","v":16.35},{"t":"2023-06-24T15:00","v":14.87},{"t":"2023-06-25T03:00","v":9.46},{"t":"2023-06-25T14:00","v":5.41},{"t":"2023-06-26T02:00","v":3.51},{"t":"2023-06-26T14:00","v":6.22},{"t":"2023-06-27T02:00","v":9.46},{"t":"2023-06-27T14:00","v":8.78},{"t":"2023-06-28T01:00","v":8.78},{"t":"2023-06-28T13:00","v":7.7},{"t":"2023-06-29T01:00","v":7.16},{"t":"2023-06-29T13:00","v":7.84},{"t":"2023-06-30T00:00","v":9.46},{"t":"2023-06-30T12:00","v":12.7},{"t":"2023-07-01T04:00","v":15.68},{"t":"2023-07-01T12:00","v":12.98},{"t":"2023-07-01T23:00","v":8.11},{"t":"2023-07-02T11:00","v":3.24},{"t":"2023-07-02T23:00","v":2.97},{"t":"2023-07-03T11:00","v":4.87},{"t":"2023-07-04T05:00","v":7.16},{"t":"2023-07-04T16:00","v":5.68},{"t":"2023-07-05T06:00","v":4.46},{"t":"2023-07-05T22:00","v":6.49},{"t":"2023-07-06T15:00","v":10.27},{"t":"2023-07-07T03:00","v":11.62},{"t":"2023-07-07T15:00","v":10.27},{"t":"2023-07-08T03:00","v":8.65},{"t":"2023-07-08T14:00","v":6.22},{"t":"2023-07-09T02:00","v":3.78},{"t":"2023-07-09T20:00","v":2.03},{"t":"2023-07-10T08:00","v":2.16},{"t":"2023-07-10T19:00","v":3.78},{"t":"2023-07-11T07:00","v":6.22},{"t":"2023-07-11T19:00","v":5.68},{"t":"2023-07-12T07:00","v":5.0},{"t":"2023-07-12T18:00","v":7.03},{"t":"2023-07-13T06:00","v":8.11},{"t":"2023-07-13T18:00","v":8.65},{"t":"2023-07-14T06:00","v":9.19},{"t":"2023-07-14T23:00","v":9.33},{"t":"2023-07-15T11:00","v":8.11},{"t":"2023-07-15T23:00","v":5.68},{"t":"2023-07-16T17:00","v":2.7},{"t":"2023-07-17T10:00","v":2.43},{"t":"2023-07-17T22:00","v":4.6},{"t":"2023-07-18T10:00","v":5.27},{"t":"2023-07-19T09:00","v":5.14},{"t":"2023-07-20T09:00","v":5.14},{"t":"2023-07-21T03:00","v":5.41},{"t":"2023-07-21T20:00","v":5.81},{"t":"2023-07-22T08:00","v":5.41},{"t":"2023-07-22T20:00","v":4.05},{"t":"2023-07-23T08:00","v":2.43},{"t":"2023-07-23T19:00","v":1.89},{"t":"2023-07-24T07:00","v":2.03},{"t":"2023-07-24T19:00","v":3.24},{"t":"2023-07-25T12:00","v":5.41},{"t":"2023-07-26T06:00","v":4.46},{"t":"2023-07-26T18:00","v":4.33},{"t":"2023-07-27T08:00","v":5.95},{"t":"2023-07-27T18:00","v":5.68},{"t":"2023-07-28T05:00","v":5.14},{"t":"2023-07-28T17:00","v":6.22},{"t":"2023-07-29T02:00","v":6.62},{"t":"2023-07-29T11:00","v":5.41},{"t":"2023-07-29T23:00","v":2.7},{"t":"2023-07-30T10:00","v":2.16},{"t":"2023-07-31T02:00","v":2.57}
 ]
},
"encoding": {
 "x": {"field": "t", "type": "temporal", "title": "Time",
  "scale": {"domain": [{"year": 2023, "month": 2, "date": 23, "hours": 16, "minutes": 50}, {"year": 2023, "month": 8, "date": 7, "hours": 12, "minutes": 45}]},
  "axis": {"title": "Time", "format": "%Y-%m", "labelPadding": 7, "titlePadding": 2, "labelFlush": false, "labelOverlap": false,
   "values": [{"year": 2023, "month": 3, "date": 1}, {"year": 2023, "month": 4, "date": 1}, {"year": 2023, "month": 5, "date": 1}, {"year": 2023, "month": 6, "date": 1}, {"year": 2023, "month": 7, "date": 1}, {"year": 2023, "month": 8, "date": 1}]}}
},
"layer": [
 {
  "data": {"values": [{"t": "2023-07-26T20:00", "t2": "2023-07-31T19:00", "low": 19325, "high": 32181}]},
  "mark": {"type": "rect", "fill": "#d9d9d9", "stroke": "#b3b3b3", "strokeWidth": 1.5},
  "encoding": {
   "x2": {"field": "t2"},
   "y": {"field": "low", "type": "quantitative", "scale": {"domain": [19100, 32225], "zero": false, "nice": false}, "axis": null},
   "y2": {"field": "high"}
  }
 },
 {
  "data": {"values": [{"t": "2023-05-17T06:00", "v": 26150, "label": "WTR"}]},
  "mark": {"type": "text", "fontSize": 28, "color": "#c0c0c0", "align": "center", "baseline": "middle"},
  "encoding": {
   "y": {"field": "v", "type": "quantitative", "scale": {"domain": [19100, 32225], "zero": false, "nice": false}, "axis": null},
   "text": {"field": "label"}
  }
 },
 {
  "data": {"name": "btc"},
  "mark": {"type": "line", "strokeWidth": 1.5},
  "encoding": {
   "y": {"field": "v", "type": "quantitative", "title": "BTC Price", "scale": {"domain": [19100, 32225], "zero": false, "nice": false},
    "axis": {"orient": "left", "title": "BTC Price", "format": "d", "values": [20000, 22000, 24000, 26000, 28000, 30000, 32000], "titlePadding": 6}},
   "color": {"datum": "BTC Price", "type": "nominal",
    "scale": {"domain": ["BTC Price", "futures volume", "options volume"], "range": ["#000000", "#4285f4", "#d2691e"]},
    "legend": {"orient": "none", "legendX": -125, "legendY": -62, "title": null, "padding": 6.5, "strokeColor": "#cccccc", "fillColor": "#ffffff", "cornerRadius": 3, "labelFontSize": 10.4, "labelColor": "#000000", "symbolType": "M-1.6,0H1.6", "symbolSize": 225, "symbolStrokeWidth": 1.5, "labelOffset": 12.5, "rowPadding": 2.2}}
  }
 },
 {
  "data": {"name": "fut"},
  "mark": {"type": "line", "strokeWidth": 1.2, "interpolate": "monotone"},
  "encoding": {
   "y": {"field": "v", "type": "quantitative", "title": "futures volume (Billion)", "scale": {"domain": [21.2, 813.6], "zero": false, "nice": false},
    "axis": {"orient": "right", "title": "futures volume (Billion)", "format": "d", "values": [100, 200, 300, 400, 500, 600, 700, 800], "labelPadding": 7.5, "titleAngle": 270, "titleBaseline": "top", "titlePadding": 5}},
   "color": {"datum": "futures volume", "type": "nominal"}
  }
 },
 {
  "data": {"name": "opt"},
  "mark": {"type": "line", "strokeWidth": 1.2, "interpolate": "monotone"},
  "encoding": {
   "y": {"field": "v", "type": "quantitative", "title": "options volume (Billion)", "scale": {"domain": [0, 23.65], "zero": false, "nice": false},
    "axis": {"orient": "right", "offset": 43.3, "title": "options volume (Billion)", "format": "d", "values": [5, 10, 15, 20], "labelPadding": 8.2, "titleAngle": 270, "titleBaseline": "top", "titlePadding": 6}},
   "color": {"datum": "options volume", "type": "nominal"}
  }
 }
],
"resolve": {"scale": {"y": "independent"}, "axis": {"y": "independent"}}
}
